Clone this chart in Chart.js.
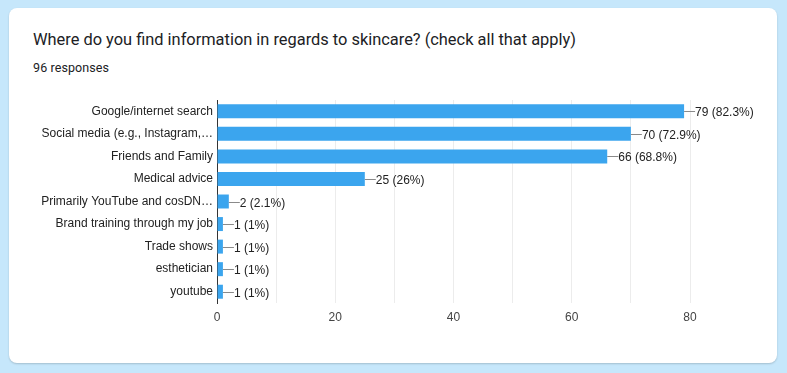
<!DOCTYPE html>
<html>
<head>
<meta charset="utf-8">
<script src="https://cdn.jsdelivr.net/npm/chart.js@4/dist/chart.umd.min.js"></script>
<style>
  html, body { margin: 0; padding: 0; }
  body { width: 787px; height: 373px; background: #c6e7fb; position: relative; overflow: hidden; }
  .card { position: absolute; left: 9px; top: 8px; width: 768px; height: 355px; background: #fff;
          border-radius: 8px; box-shadow: 0 1px 2px rgba(0,0,0,0.18); }
  .title { position: absolute; left: 33px; top: 30px; font: 16.4px Roboto, sans-serif; color: #202124; white-space: nowrap; }
  .sub { position: absolute; left: 33px; top: 60px; font: 12.5px Roboto, sans-serif; color: #202124; letter-spacing: 0.1px; }
  #wrap { position: absolute; left: 0; top: 0; width: 787px; height: 373px; }
</style>
</head>
<body>
<div class="card"></div>
<div class="title">Where do you find information in regards to skincare? (check all that apply)</div>
<div class="sub">96 responses</div>
<div id="wrap"><canvas id="myChart"></canvas></div>
<script>
var categories = ['Google/internet search', 'Social media (e.g., Instagram,\u2026', 'Friends and Family',
  'Medical advice', 'Primarily YouTube and cosDN\u2026', 'Brand training through my job',
  'Trade shows', 'esthetician', 'youtube'];
var counts = [79, 70, 66, 25, 2, 1, 1, 1, 1];
var totalResponses = 96;
var xTicks = [0, 20, 40, 60, 80];

function pct(v) {
  var s = (v / totalResponses * 100).toFixed(1);
  if (s.slice(-2) === '.0') s = s.slice(0, -2);
  return v + ' (' + s + '%)';
}

// draws the "—79 (82.3%)" labels next to each bar
var valueLabels = {
  id: 'valueLabels',
  afterDatasetsDraw: function (chart) {
    var ctx = chart.ctx;
    var meta = chart.getDatasetMeta(0);
    ctx.save();
    ctx.font = '12px "Liberation Sans", Arial, sans-serif';
    ctx.textBaseline = 'middle';
    meta.data.forEach(function (bar, i) {
      var x = bar.x, y = Math.round(bar.y) + 0.5;
      ctx.strokeStyle = '#8a8a8a';
      ctx.lineWidth = 1;
      ctx.beginPath();
      ctx.moveTo(x, y);
      ctx.lineTo(x + 11, y);
      ctx.stroke();
      ctx.fillStyle = '#222';
      ctx.fillText(pct(counts[i]), x + 11, y + 1);
    });
    ctx.restore();
  }
};

var ctx = document.getElementById('myChart').getContext('2d');
var myChart = new Chart(ctx, {
  type: 'bar',
  data: {
    labels: categories,
    datasets: [{
      data: counts,
      backgroundColor: '#3ba5ee',
      borderWidth: 0,
      categoryPercentage: 0.62,
      barPercentage: 1
    }]
  },
  options: {
    indexAxis: 'y',
    responsive: true,
    maintainAspectRatio: false,
    animation: false,
    layout: { padding: { left: 0, right: 97, top: 100, bottom: 40 } },
    plugins: { legend: { display: false }, tooltip: { enabled: false } },
    scales: {
      x: {
        min: 0, max: 80,
        afterFit: function (s) { s.height = 30; },
        afterBuildTicks: function (s) {
          s.ticks = [];
          for (var v = 0; v <= 80; v += 10) s.ticks.push({ value: v });
        },
        ticks: {
          padding: 7,
          color: '#444',
          font: { family: '"Liberation Sans", Arial, sans-serif', size: 12 },
          callback: function (v) { return xTicks.indexOf(v) >= 0 ? String(v) : ''; }
        },
        grid: { color: '#ececec', drawTicks: false },
        border: { display: false }
      },
      y: {
        afterFit: function (s) { s.width = 217; },
        ticks: {
          padding: 4,
          color: '#222',
          font: { family: '"Liberation Sans", Arial, sans-serif', size: 12 }
        },
        grid: { display: false, drawTicks: false },
        border: { display: true, color: '#333', width: 1 }
      }
    }
  },
  plugins: [valueLabels]
});
</script>
</body>
</html>
